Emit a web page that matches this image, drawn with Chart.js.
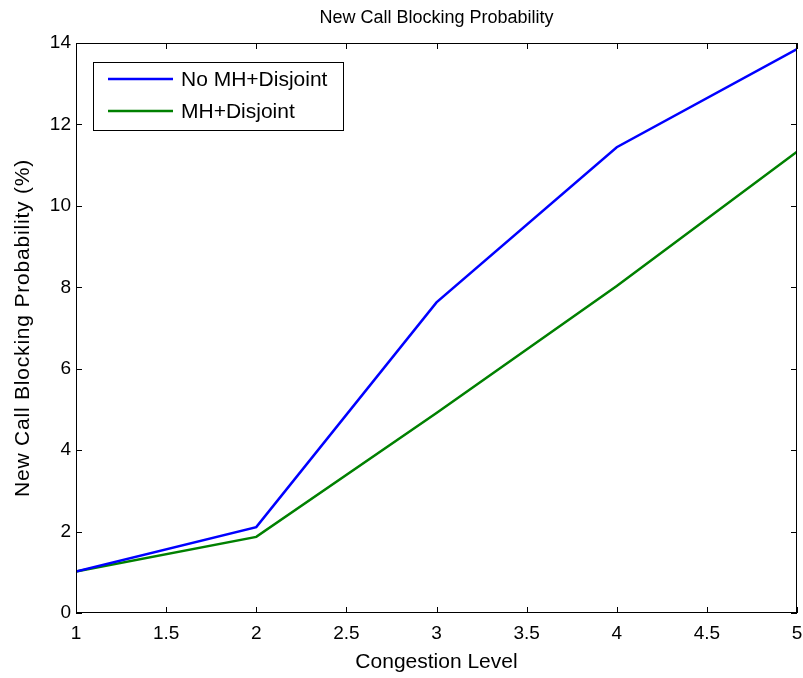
<!DOCTYPE html>
<html>
<head>
<meta charset="utf-8">
<script src="https://cdn.jsdelivr.net/npm/chart.js@4/dist/chart.umd.min.js"></script>
<style>
  html, body { margin: 0; padding: 0; background: #fff; }
  #wrap { width: 803px; height: 678px; }
</style>
</head>
<body>
<div id="wrap"><canvas id="blockChart" width="803" height="678"></canvas></div>
<script>
// data
const congestionLevels = [1, 2, 3, 4, 5];
const noMhDisjoint = [1.02, 2.11, 7.63, 11.44, 13.85];
const mhDisjoint = [1.02, 1.87, 4.91, 8.03, 11.33];
const xTicks = [1, 1.5, 2, 2.5, 3, 3.5, 4, 4.5, 5];
const yTicks = [0, 2, 4, 6, 8, 10, 12, 14];

const FONT = 'Liberation Sans, Arial, sans-serif';

function toPoints(xs, ys) {
    return xs.map((x, i) => ({ x: x, y: ys[i] }));
}

// MATLAB-style box, inward ticks, titles and legend
const matlabFrame = {
    id: 'matlabFrame',
    afterDraw(chart) {
        const ctx = chart.ctx;
        const a = chart.chartArea;
        const xs = chart.scales.x, ys = chart.scales.y;
        const tl = 6;
        ctx.save();
        ctx.strokeStyle = '#000';
        ctx.lineWidth = 1;
        ctx.strokeRect(a.left + 0.5, a.top + 0.5, a.right - a.left - 1, a.bottom - a.top - 1);
        ctx.beginPath();
        xTicks.forEach(v => {
            const px = Math.round(xs.getPixelForValue(v)) + 0.5;
            ctx.moveTo(px, a.bottom); ctx.lineTo(px, a.bottom - tl);
            ctx.moveTo(px, a.top); ctx.lineTo(px, a.top + tl);
        });
        yTicks.forEach(v => {
            const py = Math.round(ys.getPixelForValue(v)) + 0.5;
            ctx.moveTo(a.left, py); ctx.lineTo(a.left + tl, py);
            ctx.moveTo(a.right, py); ctx.lineTo(a.right - tl, py);
        });
        ctx.stroke();

        ctx.fillStyle = '#000';
        ctx.textAlign = 'center';
        ctx.textBaseline = 'middle';

        // title
        ctx.font = '18px ' + FONT;
        ctx.fillText('New Call Blocking Probability', (a.left + a.right) / 2, 18);

        // axis titles
        ctx.font = '21px ' + FONT;
        ctx.fillText('Congestion Level', (a.left + a.right) / 2, 662);
        ctx.save();
        ctx.translate(23, (a.top + a.bottom) / 2);
        ctx.rotate(-Math.PI / 2);
        ctx.letterSpacing = '0.8px';
        ctx.fillText('New Call Blocking Probability (%)', 0, 0);
        ctx.restore();

        // legend
        const lx = 93, ly = 62, lw = 250, lh = 68;
        ctx.fillStyle = '#fff';
        ctx.fillRect(lx, ly, lw, lh);
        ctx.strokeRect(lx + 0.5, ly + 0.5, lw, lh);
        ctx.font = '21px ' + FONT;
        ctx.textAlign = 'left';
        chart.data.datasets.forEach((ds, i) => {
            const y = 79 + i * 32;
            ctx.strokeStyle = ds.borderColor;
            ctx.lineWidth = 2.5;
            ctx.beginPath();
            ctx.moveTo(108, y); ctx.lineTo(173, y);
            ctx.stroke();
            ctx.fillStyle = '#000';
            ctx.fillText(ds.label, 181, y + 1);
        });
        ctx.restore();
    }
};

new Chart(document.getElementById('blockChart'), {
    type: 'line',
    data: {
        datasets: [{
            label: 'No MH+Disjoint',
            data: toPoints(congestionLevels, noMhDisjoint),
            borderColor: '#0000ff',
            borderWidth: 2.5,
            pointRadius: 0,
            tension: 0
        }, {
            label: 'MH+Disjoint',
            data: toPoints(congestionLevels, mhDisjoint),
            borderColor: '#008000',
            borderWidth: 2.5,
            pointRadius: 0,
            tension: 0
        }]
    },
    options: {
        responsive: false,
        animation: false,
        layout: { padding: { left: 0, right: 6, top: 43, bottom: 0 } },
        plugins: {
            legend: { display: false },
            title: { display: false },
            tooltip: { enabled: false }
        },
        scales: {
            x: {
                type: 'linear',
                min: 1,
                max: 5,
                afterBuildTicks: (s) => { s.ticks = xTicks.map(v => ({ value: v })); },
                afterFit: (s) => { s.height = 65; s.paddingLeft = 0; s.paddingRight = 0; },
                grid: { display: false, drawTicks: false },
                border: { display: false },
                ticks: {
                    color: '#000',
                    font: { family: FONT, size: 19 },
                    padding: 9,
                    maxRotation: 0,
                    callback: (v) => String(v)
                }
            },
            y: {
                min: 0,
                max: 14,
                afterBuildTicks: (s) => { s.ticks = yTicks.map(v => ({ value: v })); },
                afterFit: (s) => { s.width = 76; s.paddingTop = 0; s.paddingBottom = 0; },
                grid: { display: false, drawTicks: false },
                border: { display: false },
                ticks: {
                    color: '#000',
                    font: { family: FONT, size: 19 },
                    padding: 5
                }
            }
        }
    },
    plugins: [matlabFrame]
});
</script>
</body>
</html>
